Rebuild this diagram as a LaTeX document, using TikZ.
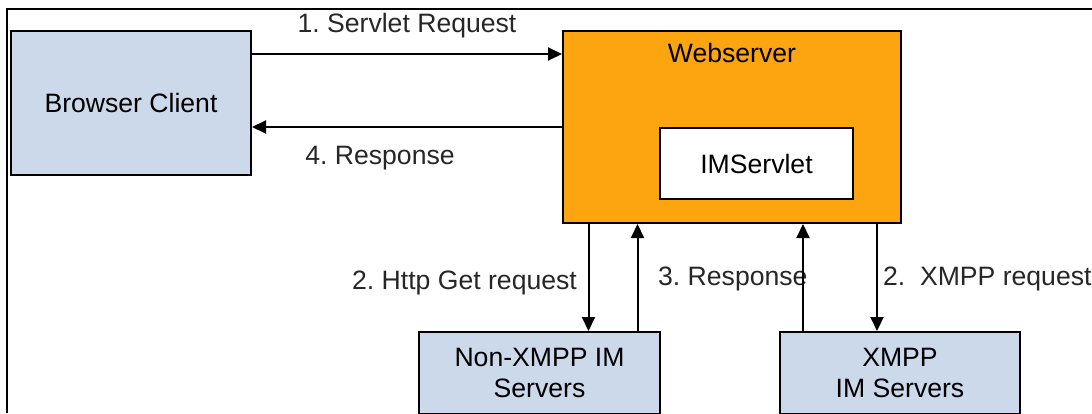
\documentclass[tikz,border=0pt]{standalone}
\usepackage{fontspec}
\setmainfont{Liberation Sans}
\usetikzlibrary{arrows.meta,positioning,calc}
\definecolor{boxblue}{RGB}{204,217,234}
\definecolor{weborange}{RGB}{252,165,17}
\frenchspacing

\begin{document}
\begin{tikzpicture}[
        x=0.5pt, y=-0.5pt,
        font=\fontsize{13.3}{15.5}\selectfont,
        block/.style={rectangle, draw, line width=1pt, fill=boxblue, align=center, inner sep=0pt},
        arrow/.style={line width=1pt, -{Triangle[length=7pt,width=6.5pt]}},
        % labels on the arrows
        lbl/.style={text=black!85}
    ]
    \useasboundingbox (0,0) rectangle (1092,413);
    \clip (0,0) rectangle (1092,413);

    % --- frame ---
    \draw[line width=0.7pt] (1092,9) -- (7,9) -- (7,413);

    % --- boxes ---
    \node (browser) [block, minimum width=120pt, minimum height=72pt] at (131,103) {Browser Client};
    \node (web) [block, fill=weborange, minimum width=169pt, minimum height=96pt] at (732,127) {};
    \node (webtitle) [below=3pt of web.north] {Webserver};
    \node (servlet) [block, fill=white, minimum width=96.5pt, minimum height=35.5pt] at (756.5,163.5) {IMServlet};
    \node (nonxmpp) [block, minimum width=120.5pt, minimum height=41pt] at (539.5,373) {Non-XMPP IM\\Servers};
    \node (xmpp) [block, minimum width=120pt, minimum height=41pt] at (900,373) {XMPP\\IM Servers};

    % --- arrow positions on the server boxes ---
    \coordinate (getx) at ($(nonxmpp.north)+(49,0)$);
    \coordinate (getback) at ($(nonxmpp.north)+(98,0)$);
    \coordinate (xmppback) at ($(xmpp.north)+(-97,0)$);
    \coordinate (xmppx) at ($(xmpp.north)+(-23,0)$);

    % --- Browser <-> Webserver ---
    \draw[arrow] ([yshift=-12pt]browser.north east) -- node[lbl, above=4pt] (req) {1. Servlet Request} ([yshift=-12pt]web.north west);
    \draw[arrow] (web.west) -- node[lbl, below=6pt, xshift=-13.5pt] (resp) {4. Response} (web.west -| browser.east);

    % --- Webserver <-> IM servers ---
    \draw[arrow] (web.south -| getx) -- node[lbl, left=2pt, yshift=-2.5pt] (getreq) {2. Http Get request} (getx);
    \draw[arrow] (getback) -- node[lbl, right=6.5pt, yshift=-0.5pt] (getresp) {3. Response} (web.south -| getback);
    \draw[arrow] (xmppback) -- (web.south -| xmppback);
    \draw[arrow] (web.south -| xmppx) -- node[lbl, right=-0.8pt, yshift=-0.5pt] (xmppreq) {2.~~XMPP request} (xmppx);

\end{tikzpicture}
\end{document}
